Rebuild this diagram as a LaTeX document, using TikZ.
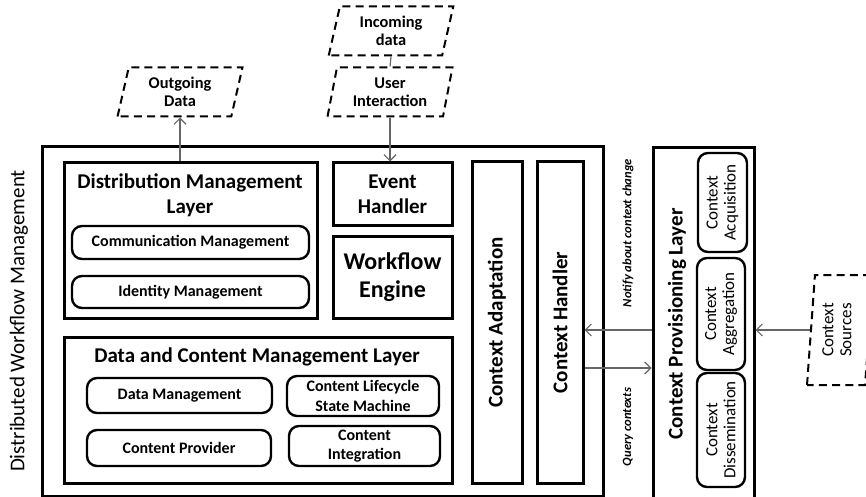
\documentclass[tikz,border=0pt]{standalone}
\usepackage{fontspec}
\setmainfont{Carlito}
\usetikzlibrary{positioning,fit,shapes.geometric,arrows.meta}

\begin{document}
\begin{tikzpicture}[x=0.5pt, y=-0.5pt,
BoxStyle/.style={draw, line width=1.5pt, inner sep=0pt},
ModStyle/.style={draw, line width=1.2pt, rounded corners=5pt, inner sep=0pt},
ModFont/.style={font=\fontsize{8}{9.6}\selectfont\bfseries, align=center},
IoStyle/.style={draw, dash pattern=on 4pt off 2.6pt, line width=1pt,
                trapezium, trapezium stretches=true, inner sep=0pt,
                trapezium left angle=77, trapezium right angle=103,
                minimum width=62.5pt, minimum height=24.5pt,
                font=\fontsize{8.2}{9}\selectfont\bfseries, align=center},
TitleFont/.style={font=\fontsize{10.5}{12.5}\selectfont\bfseries, align=center},
CtxFont/.style={font=\fontsize{8.5}{9}\selectfont, align=center},
NoteStyle/.style={rotate=90, font=\fontsize{6.3}{7}\selectfont\bfseries\itshape},
ArrStyle/.style={draw=black!60, line width=0.6pt,
                 -{Straight Barb[length=3pt, width=6pt]}},]
\useasboundingbox (0,0) rectangle (866,497);

% workflow block
\node [BoxStyle, fit={(42,147) (603,496)}] (dwm) {};
\node [rotate=90, font=\fontsize{10.5}{12}\selectfont] (dwmt) at (19,321)
      {Distributed Workflow Management};

\node [BoxStyle, fit={(64,163) (317,318)}] (dml) {};
\node [TitleFont] (dmlt) at (190,195) {Distribution Management\\Layer};
\node [ModStyle, fit={(72,226) (309,259)}] (comm) {};
\node [ModFont] (commt) at (comm) {Communication Management};
\node [ModStyle, fit={(72,276) (309,308)}] (ident) {};
\node [ModFont] (identt) at (ident) {Identity Management};

\node [BoxStyle, fit={(333,163) (452,225)}] (eh) {};
\node [TitleFont] (eht) at (eh) {Event\\Handler};
\node [BoxStyle, fit={(333,236) (452,318)}] (we) {};
\node [align=center, font=\fontsize{12}{14}\selectfont\bfseries] (wet) at (we)
      {Workflow\\Engine};

\node [BoxStyle, fit={(64,337) (452,483)}] (dcml) {};
\node [TitleFont] (dcmlt) at (257,357) {Data and Content Management Layer};
\node [ModStyle, fit={(87,378) (272,413)}] (datam) {};
\node [ModFont] (datamt) at (datam) {Data Management};
\node [ModStyle, fit={(287,376) (439,416)}] (life) {};
\node [ModFont] (lifet) at (life) {Content Lifecycle\\State Machine};
\node [ModStyle, fit={(87,430) (271,466)}] (prov) {};
\node [ModFont] (provt) at (prov) {Content Provider};
\node [ModStyle, fit={(289,426) (440,466)}] (integ) {};
\node [ModFont] (integt) at (integ) {Content\\Integration};

\node [BoxStyle, fit={(472,162) (522,483)}] (ca) {};
\node [TitleFont, rotate=90] (cat) at (ca) {Context Adaptation};
\node [BoxStyle, fit={(537,162) (583,483)}] (ch) {};
\node [TitleFont, rotate=90] (cht) at (ch) {Context Handler};

% context provisioning
\node [BoxStyle, fit={(653,148) (754,520)}] (cpl) {};
\node [TitleFont, rotate=90] (cplt) at (677,324) {Context Provisioning Layer};
\node [ModStyle, fit={(698,153) (747,252)}] (acq) {};
\node [CtxFont, rotate=90] (acqt) at (acq) {Context\\Acquisition};
\node [ModStyle, fit={(697,258) (745,370)}] (agg) {};
\node [CtxFont, rotate=90] (aggt) at (agg) {Context\\Aggregation};
\node [ModStyle, fit={(697,373) (745,487)}] (diss) {};
\node [CtxFont, rotate=90] (disst) at (diss) {Context\\Dissemination};

% data in and out
\node [IoStyle] (outd) at (180,92) {Outgoing\\Data};
\node [IoStyle] (inc) at (391,31) {Incoming\\data};
\node [IoStyle] (ui) at (390,92) {User\\Interaction};
\node [IoStyle, trapezium left angle=81, trapezium right angle=99, inner sep=2pt,
       minimum width=33pt, minimum height=55pt] (csrc) at (840,330) {};
\node [CtxFont, rotate=90] (csrct) at (837,330) {Context\\Sources};

\coordinate (nfy) at (620,330);
\coordinate (qry) at (620,368);
\draw [ArrStyle] (outd.south |- dml.north) -- (outd.south);
\draw [draw=black!60, line width=0.6pt] (inc.south) -- (ui.north);
\draw [ArrStyle] (ui.south) -- (ui.south |- eh.north);
\draw [ArrStyle] (cpl.west |- nfy) -- (ch.east |- nfy);
\draw [ArrStyle] (ch.east |- qry) -- (cpl.west |- qry);
\draw [ArrStyle] (csrc.west) -- (csrc.west -| cpl.east);
\node [NoteStyle] (nfyt) at (628,233) {Notify about context change};
\node [NoteStyle] (qryt) at (628,427) {Query contexts};
\end{tikzpicture}
\end{document}
